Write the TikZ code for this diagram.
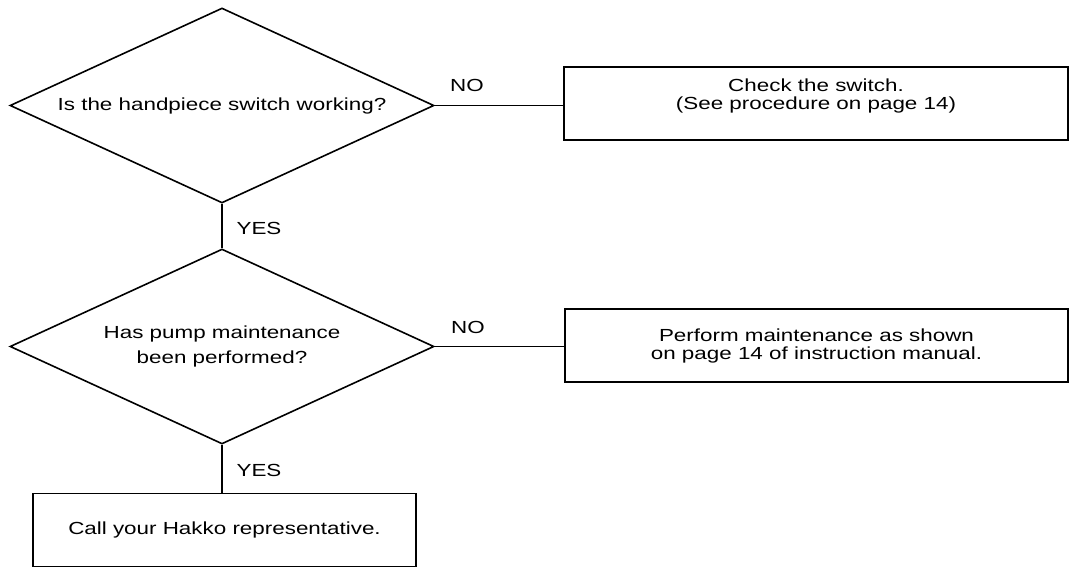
\documentclass[tikz,border=0pt]{standalone}
\usepackage{fontspec}
\setmainfont{Liberation Sans}[FakeStretch=1.28]
\usetikzlibrary{shapes.geometric}
\begin{document}
\begin{tikzpicture}[x=1pt,y=-1pt,
  txt/.style={font=\fontsize{17.5}{18}\selectfont, align=center},
  dec/.style={draw, line width=1.6pt, diamond, shape aspect=2.17,
    minimum width=424pt, minimum height=195pt, inner sep=0pt, align=center,
    font=\fontsize{17.5}{25}\selectfont},
  box/.style={draw, line width=1.6pt, rectangle, inner sep=0pt, align=center,
    minimum height=73pt, font=\fontsize{17.5}{18}\selectfont},
  lbl/.style={inner sep=0pt, font=\fontsize{17.5}{18}\selectfont},
  conn/.style={line width=1.6pt}]
\useasboundingbox (0,0) rectangle (1069,569);
% decisions
\node[dec] (d1) at (222,105.5) {Is the handpiece switch working?};
\node[dec] (d2) at (222,346.5) {Has pump maintenance\\been performed?};
% boxes
\node[box, minimum width=504pt,
  label={[txt, yshift=8pt]center:Check the switch.\\(See procedure on page 14)}]
  (b1) at (816,103.5) {};
\node[box, minimum width=503pt] (b2) at (816.5,345.5)
  {Perform maintenance as shown\\on page 14 of instruction manual.};
\node[box, minimum width=383pt] (b3) at (224.5,530) 
  {Call your Hakko representative.};
% connectors
\draw[conn] (d1.east) -- (d1.east -| b1.west);
\draw[conn] (d1.south) -- (d2.north);
\draw[conn] (d2.east) -- (d2.east -| b2.west);
\draw[conn] (d2.south) -- (d2.south |- b3.north);
% labels
\node[lbl] (no1) at (467,85) {NO};
\node[lbl] (no2) at (468,327) {NO};
\node[lbl] (yes1) at (259,228) {YES};
\node[lbl] (yes2) at (259,470) {YES};
\end{tikzpicture}
\end{document}
